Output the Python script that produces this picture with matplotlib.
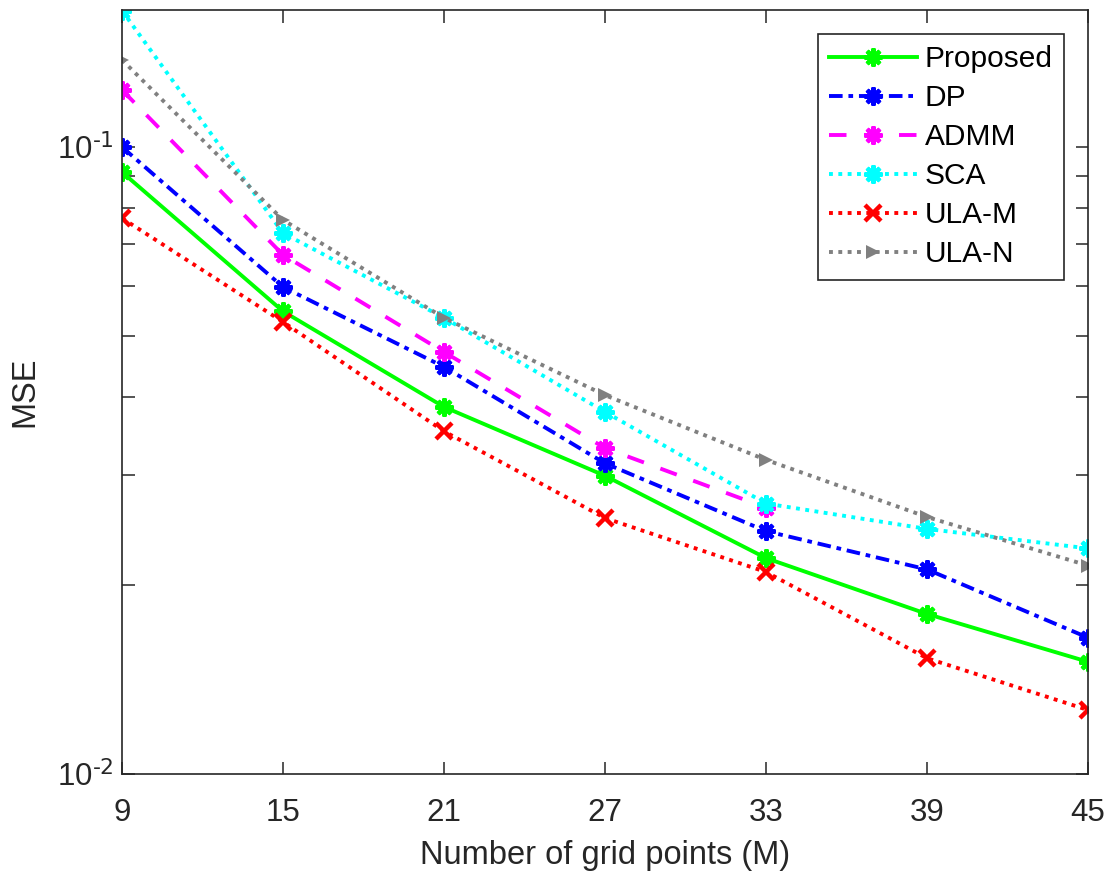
import numpy as np
import matplotlib
matplotlib.use("Agg")
import matplotlib.pyplot as plt
from matplotlib.ticker import LogLocator, NullFormatter, FixedFormatter, FixedLocator

plt.rcParams['font.family'] = ['Liberation Sans', 'DejaVu Sans']
plt.rcParams['mathtext.default'] = 'regular'

grid_points = [9, 15, 21, 27, 33, 39, 45]

mse_proposed = [0.0912, 0.0547, 0.0385, 0.0299, 0.0221, 0.0180, 0.0151]
mse_dp       = [0.1000, 0.0598, 0.0446, 0.0313, 0.0244, 0.0212, 0.0165]
mse_admm     = [0.1233, 0.0673, 0.0471, 0.0331, 0.0266]
mse_sca      = [0.1650, 0.0729, 0.0534, 0.0378, 0.0270, 0.0246, 0.0229]
mse_ula_m    = [0.0770, 0.0526, 0.0352, 0.0256, 0.0210, 0.0153, 0.01265]
mse_ula_n    = [0.1377, 0.0765, 0.0534, 0.0402, 0.0317, 0.0257, 0.0215]

labels = ["Proposed", "DP", "ADMM", "SCA", "ULA-M", "ULA-N"]

ast = (8, 2, 0)  # asterisk like MATLAB '*'

fig = plt.figure(figsize=(11.12, 8.75), dpi=100)
ax = fig.add_axes([0.1097, 0.1154, 0.8687, 0.8732])

lw = 2.8
ax.plot(grid_points, mse_proposed, color=(0, 1, 0), ls='-', lw=lw,
        marker=ast, ms=13, mew=3, label=labels[0])
ax.plot(grid_points, mse_dp, color=(0, 0, 1), ls=(0, (3.5, 1.5, 1.2, 1.5)), lw=lw,
        marker=ast, ms=13, mew=3, label=labels[1])
ax.plot(grid_points[:len(mse_admm)], mse_admm, color=(1, 0, 1), ls=(0, (4.5, 4.5)), lw=lw,
        marker=ast, ms=13, mew=3, label=labels[2])
ax.plot(grid_points, mse_sca, color=(0, 1, 1), ls=(0, (1, 1.4)), lw=lw,
        marker=ast, ms=13, mew=3, label=labels[3], dash_capstyle='butt')
ax.plot(grid_points, mse_ula_m, color=(1, 0, 0), ls=(0, (1, 1.4)), lw=lw,
        marker='x', ms=11, mew=3.2, label=labels[4], dash_capstyle='butt')
ax.plot(grid_points, mse_ula_n, color=(0.5, 0.5, 0.5), ls=(0, (1, 1.4)), lw=lw,
        marker='>', ms=10, mew=0, label=labels[5], dash_capstyle='butt')

ax.set_yscale('log')
ax.set_xlim(9, 45)
ax.set_ylim(0.01, 0.1654)
ax.set_xticks(grid_points)
ax.yaxis.set_major_locator(FixedLocator([0.01, 0.1]))
ax.yaxis.set_major_formatter(FixedFormatter([r'$10^{\text{-2}}$', r'$10^{\text{-1}}$']))
ax.yaxis.set_minor_locator(LogLocator(base=10, subs=np.arange(2, 10)))
ax.yaxis.set_minor_formatter(NullFormatter())

edge = (0.15, 0.15, 0.15)
for s in ax.spines.values():
    s.set_color(edge)
    s.set_linewidth(1.2)
ax.tick_params(which='both', direction='in', top=True, right=True,
               length=9, width=1.1, color=edge, labelsize=22.5, labelcolor=edge)
ax.tick_params(axis='x', pad=17)
ax.tick_params(axis='y', pad=6)

ax.set_xlabel("Number of grid points (M)", fontsize=23.5, color=edge, labelpad=9)
ax.set_ylabel("MSE", fontsize=23.5, color=edge, labelpad=12)

leg = ax.legend(loc='upper right', fontsize=21.5, handlelength=2.95, handletextpad=0.25,
                labelspacing=0.37, borderpad=0.38, borderaxespad=0.8,
                fancybox=False, framealpha=1, edgecolor=edge)
leg.get_frame().set_linewidth(1.2)

fig.savefig("out.png", dpi=100)
